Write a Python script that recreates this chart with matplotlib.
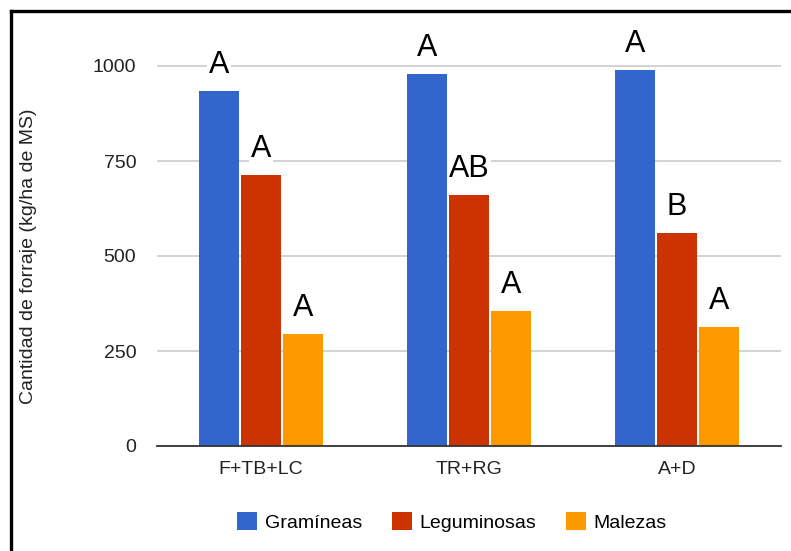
import numpy as np
import matplotlib.pyplot as plt
from matplotlib.patches import Patch
from matplotlib.lines import Line2D

plt.rcParams['font.family'] = ['Liberation Sans', 'DejaVu Sans']

categories = ['F+TB+LC', 'TR+RG', 'A+D']
gramineas = [934, 979, 990]
leguminosas = [713, 660, 560]
malezas = [295, 356, 313]
letras_gram = ['A', 'A', 'A']
letras_leg = ['A', 'AB', 'B']
letras_mal = ['A', 'A', 'A']

series = ['Gramíneas', 'Leguminosas', 'Malezas']
colors = ['#3366cc', '#cc3300', '#ff9900']

fig = plt.figure(figsize=(7.91, 5.51), dpi=100)
W, H = 791, 551
ax = fig.add_axes([157 / W, (H - 446) / H, (781 - 157) / W, (446 - 28) / H])

x = np.arange(len(categories))
pitch = 0.202
width = 0.192
data = [gramineas, leguminosas, malezas]
letras = [letras_gram, letras_leg, letras_mal]
for i, (vals, lets, c) in enumerate(zip(data, letras, colors)):
    pos = x + (i - 1) * pitch
    ax.bar(pos, vals, width, color=c, zorder=3)
    for px, v, t in zip(pos, vals, lets):
        ax.annotate(t, (px, v), xytext=(0, 13), textcoords='offset points',
                    ha='center', va='baseline', fontsize=22, color='black', zorder=4,
                    bbox=dict(boxstyle='square,pad=0.05', fc='white', ec='none'))

ax.set_xlim(-0.5, 2.5)
ax.set_ylim(0, 1100)
ax.set_yticks([0, 250, 500, 750, 1000])
ax.set_xticks(x)
ax.set_xticklabels(categories)
ax.tick_params(axis='both', length=0, labelsize=14, colors='#222222')
ax.tick_params(axis='y', pad=15)
ax.tick_params(axis='x', pad=11)
ax.grid(axis='y', color='#cccccc', linewidth=1.2, zorder=0)
for s in ['top', 'right', 'left']:
    ax.spines[s].set_visible(False)
ax.spines['bottom'].set_color('#333333')
ax.spines['bottom'].set_linewidth(1.3)
ax.spines['bottom'].set_zorder(5)
ax.set_ylabel('Cantidad de forraje (kg/ha de MS)', fontsize=14, color='#222222',
              va='center')
ax.yaxis.set_label_coords(29 / W, (H - 256) / H, transform=fig.transFigure)

handles = [Patch(facecolor=c, edgecolor='none') for c in colors]
fig.legend(handles, series, loc='center', bbox_to_anchor=(452 / W, 1 - 522 / H),
           ncol=3, frameon=False, fontsize=14, handlelength=1.0, handleheight=1.0,
           handletextpad=0.4, columnspacing=1.55)

# marco negro (solo izquierda y arriba)
fig.add_artist(Line2D([11 / W, 11 / W], [0, 1 - 11 / H], color='black', linewidth=2.4,
                      transform=fig.transFigure))
fig.add_artist(Line2D([11 / W, 1], [1 - 11 / H, 1 - 11 / H], color='black', linewidth=2.4,
                      transform=fig.transFigure))

fig.savefig('out.png', dpi=100)
